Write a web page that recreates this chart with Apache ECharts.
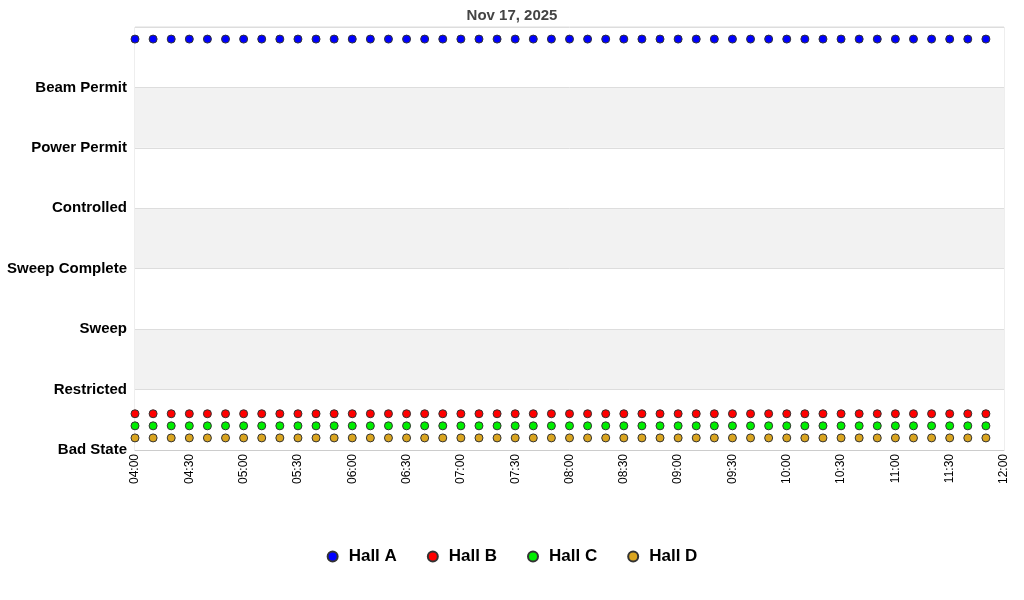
<!DOCTYPE html>
<html><head><meta charset="utf-8">
<script src="https://cdn.jsdelivr.net/npm/echarts@6/dist/echarts.min.js"></script>
<style>html,body{margin:0;padding:0;background:#fff}#c{width:1024px;height:600px}</style>
</head><body><div id="c"></div>
<script>
const title = "Nov 17, 2025";
const stateLabels = ["Bad State","Restricted","Sweep","Sweep Complete","Controlled","Power Permit","Beam Permit",""];
const times = ["04:00","04:10","04:20","04:30","04:40","04:50","05:00","05:10","05:20","05:30","05:40","05:50",
"06:00","06:10","06:20","06:30","06:40","06:50","07:00","07:10","07:20","07:30","07:40","07:50",
"08:00","08:10","08:20","08:30","08:40","08:50","09:00","09:10","09:20","09:30","09:40","09:50",
"10:00","10:10","10:20","10:30","10:40","10:50","11:00","11:10","11:20","11:30","11:40","11:50"];
const hallA = [6.8,6.8,6.8,6.8,6.8,6.8,6.8,6.8,6.8,6.8,6.8,6.8,6.8,6.8,6.8,6.8,6.8,6.8,6.8,6.8,6.8,6.8,6.8,6.8,6.8,6.8,6.8,6.8,6.8,6.8,6.8,6.8,6.8,6.8,6.8,6.8,6.8,6.8,6.8,6.8,6.8,6.8,6.8,6.8,6.8,6.8,6.8,6.8];
const hallB = [0.6,0.6,0.6,0.6,0.6,0.6,0.6,0.6,0.6,0.6,0.6,0.6,0.6,0.6,0.6,0.6,0.6,0.6,0.6,0.6,0.6,0.6,0.6,0.6,0.6,0.6,0.6,0.6,0.6,0.6,0.6,0.6,0.6,0.6,0.6,0.6,0.6,0.6,0.6,0.6,0.6,0.6,0.6,0.6,0.6,0.6,0.6,0.6];
const hallC = [0.4,0.4,0.4,0.4,0.4,0.4,0.4,0.4,0.4,0.4,0.4,0.4,0.4,0.4,0.4,0.4,0.4,0.4,0.4,0.4,0.4,0.4,0.4,0.4,0.4,0.4,0.4,0.4,0.4,0.4,0.4,0.4,0.4,0.4,0.4,0.4,0.4,0.4,0.4,0.4,0.4,0.4,0.4,0.4,0.4,0.4,0.4,0.4];
const hallD = [0.2,0.2,0.2,0.2,0.2,0.2,0.2,0.2,0.2,0.2,0.2,0.2,0.2,0.2,0.2,0.2,0.2,0.2,0.2,0.2,0.2,0.2,0.2,0.2,0.2,0.2,0.2,0.2,0.2,0.2,0.2,0.2,0.2,0.2,0.2,0.2,0.2,0.2,0.2,0.2,0.2,0.2,0.2,0.2,0.2,0.2,0.2,0.2];
const seriesNames = ["Hall A","Hall B","Hall C","Hall D"];
const colors = ["#0000ff","#ff0000","#00ee00","#daa520"];

const toMin = s => { const [h,m] = s.split(':').map(Number); return h*60+m; };
const fmt = v => String(Math.floor(v/60)).padStart(2,'0')+':'+String(v%60).padStart(2,'0');
const mk = (vals) => times.map((t,i)=>[toMin(t), vals[i]]);
const all = [hallA,hallB,hallC,hallD];

const chart = echarts.init(document.getElementById('c'));
chart.setOption({
  animation:false,
  title:{text:title,left:'center',top:3,textStyle:{fontFamily:'Liberation Sans, Arial',fontSize:15,fontWeight:'bold',color:'#444'}},
  grid:{left:135,right:20,top:27,bottom:150,show:true,borderColor:'#ddd',borderWidth:1,backgroundColor:'#fff'},
  xAxis:{type:'value',min:240,max:720,interval:30,
    axisLine:{show:true,lineStyle:{color:'#ccc'}},axisTick:{show:false},
    splitLine:{show:false},
    axisLabel:{rotate:90,fontFamily:'Liberation Sans, Arial',fontSize:12,color:'#000',formatter:v=>fmt(v),margin:4,hideOverlap:false}},
  yAxis:{type:'value',min:0,max:7,interval:1,
    axisLine:{show:false},axisTick:{show:false},
    splitLine:{show:true,lineStyle:{color:'#ddd'}},
    splitArea:{show:true,areaStyle:{color:['#ffffff','#f2f2f2']}},
    axisLabel:{fontFamily:'Liberation Sans, Arial',fontSize:15,fontWeight:'bold',color:'#000',margin:8,formatter:v=>stateLabels[v]||''}},
  legend:{bottom:30,left:'center',itemGap:30,itemWidth:10,itemHeight:10,
    textStyle:{fontFamily:'Liberation Sans, Arial',fontSize:17,fontWeight:'bold',color:'#000',padding:[0,0,0,6]},
    data:seriesNames.map(n=>({name:n,icon:'circle'}))},
  series:seriesNames.map((n,i)=>({name:n,type:'scatter',symbol:'circle',symbolSize:8,
    itemStyle:{color:colors[i],borderColor:'#333',borderWidth:1,opacity:1},
    data:mk(all[i])}))
});
</script></body></html>
